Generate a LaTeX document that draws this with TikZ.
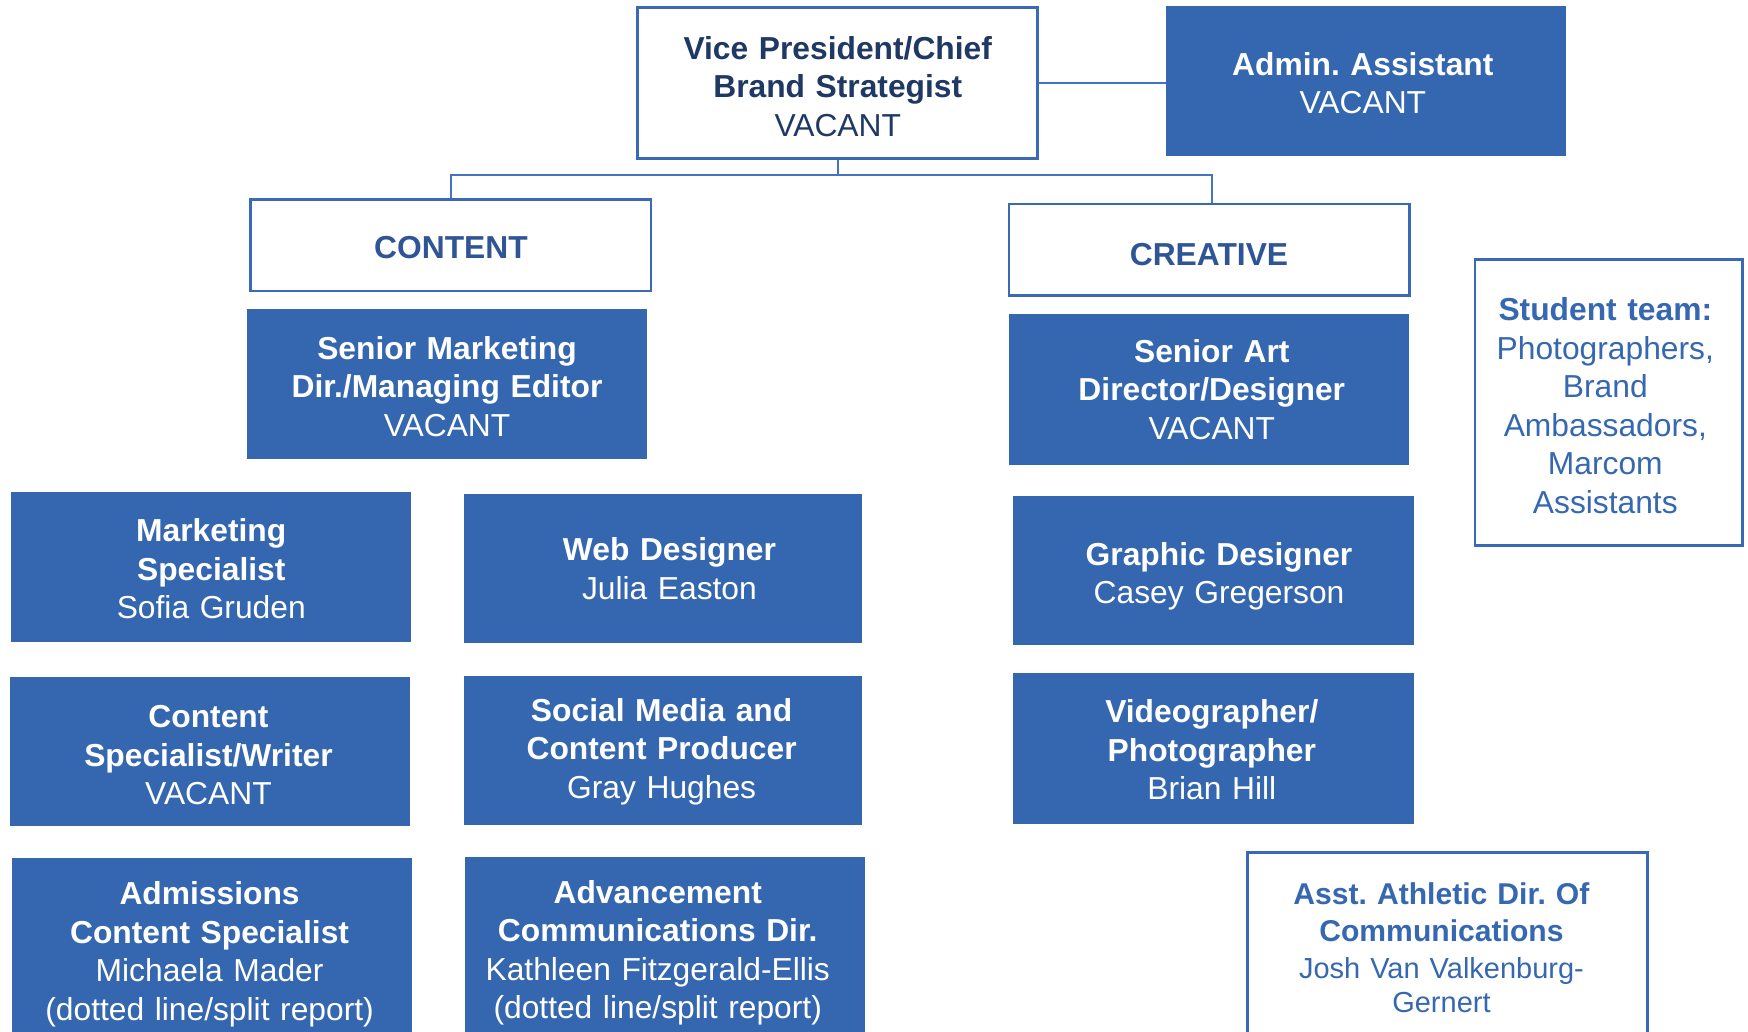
\documentclass[tikz,border=0pt]{standalone}
\usepackage{fontspec}
\setmainfont{Liberation Sans}
\frenchspacing
\definecolor{boxblue}{RGB}{53,103,176}
\definecolor{edgeblue}{RGB}{58,106,182}
\definecolor{linkblue}{RGB}{68,114,196}
\definecolor{navy}{RGB}{31,56,100}
\definecolor{headblue}{RGB}{47,85,151}
\definecolor{noteblue}{RGB}{54,104,178}
\tikzset{
  base/.style={rectangle, inner sep=0pt, align=center, text width=340pt,
    font=\fontsize{28.5pt}{34.5pt}\selectfont},
  filledbox/.style={base, fill=boxblue, text=white},
  outlinebox/.style={base, draw=edgeblue, line width=2.5pt, fill=white},
  link/.style={draw=linkblue, line width=1.3pt},
  % nudge the text block: #1 = sideways offset, #2 = downward offset (pt)
  adj/.style 2 args={execute at begin node={%
    \ifdim#1pt>0pt \advance\leftskip by 2\dimexpr#1pt\relax\relax
    \else \advance\rightskip by -2\dimexpr#1pt\relax\relax \fi
    \rule{0pt}{\dimexpr20.6pt+2\dimexpr#2pt\relax\relax}}},
}
\begin{document}
\begin{tikzpicture}[x=1pt,y=-1pt]
\useasboundingbox (0,0) rectangle (1568,925);
\clip (0,0) rectangle (1568,925);
\fill[white] (0,0) rectangle (1568,925);

% top level
\node[outlinebox, text=navy, minimum width=359pt, minimum height=135pt, adj={0}{3}] (vp) at (751.5,74.5)
  {\textbf{Vice President/Chief}\\\textbf{Brand Strategist}\\VACANT};
\node[filledbox, minimum width=359pt, minimum height=135pt, adj={-3}{2}] (admin) at (1225.5,72.5)
  {\textbf{Admin. Assistant}\\VACANT};

% department headers
\node[outlinebox, text=headblue, minimum width=359pt, minimum height=82pt, adj={0}{2}] (content) at (404.5,220)
  {\textbf{CONTENT}};
\node[outlinebox, text=headblue, minimum width=359pt, minimum height=82pt, adj={0}{4}] (creative) at (1084.5,224)
  {\textbf{CREATIVE}};

% connectors
\coordinate (bus) at (0,157);
\draw[link] (vp.east) -- (vp.east -| admin.west);
\draw[link] (vp.south) -- (vp.south |- bus);
\draw[link] (content.north) -- (content.north |- bus) -| ([xshift=2.5pt]creative.north);

% content team
\node[filledbox, minimum width=358pt, minimum height=135pt, adj={0}{2}] (smd) at (401,344.5)
  {\textbf{Senior Marketing}\\\textbf{Dir./Managing Editor}\\VACANT};
\node[filledbox, minimum width=359pt, minimum height=135pt, adj={0}{2}] (mkt) at (189.5,508.5)
  {\textbf{Marketing}\\\textbf{Specialist}\\Sofia Gruden};
\node[filledbox, minimum width=357pt, minimum height=134pt, adj={6}{0}] (web) at (594.5,510)
  {\textbf{Web Designer}\\Julia Easton};
\node[filledbox, minimum width=359pt, minimum height=134pt, adj={-1.5}{3}] (csw) at (188.5,674)
  {\textbf{Content}\\\textbf{Specialist/Writer}\\VACANT};
\node[filledbox, minimum width=357pt, minimum height=134pt, adj={-1}{1}] (smc) at (594.5,673)
  {\textbf{Social Media and}\\\textbf{Content Producer}\\Gray Hughes};
\node[filledbox, minimum width=359pt, minimum height=168pt, adj={-2.5}{2}] (adm) at (190.5,854)
  {\textbf{Admissions}\\\textbf{Content Specialist}\\Michaela Mader\\(dotted line/split report)};
\node[filledbox, minimum width=359pt, minimum height=165pt, adj={-6.5}{3}] (adv) at (596.5,851.5)
  {\textbf{Advancement}\\\textbf{Communications Dir.}\\Kathleen Fitzgerald-Ellis\\(dotted line/split report)};

% creative team
\node[filledbox, minimum width=359pt, minimum height=135pt, adj={2.5}{0}] (sad) at (1084.5,349.5)
  {\textbf{Senior Art}\\\textbf{Director/Designer}\\VACANT};
\node[filledbox, minimum width=359pt, minimum height=134pt, adj={5}{5}] (gd) at (1088.5,512)
  {\textbf{Graphic Designer}\\Casey Gregerson};
\node[filledbox, minimum width=359pt, minimum height=135pt, adj={-1.5}{1}] (vid) at (1088.5,671.5)
  {\textbf{Videographer/}\\\textbf{Photographer}\\Brian Hill};

% side notes
\node[outlinebox, text=noteblue, text width=225pt, minimum width=240pt, minimum height=256pt, adj={-3}{3}] (student) at (1443,361)
  {\textbf{Student team:}\\Photographers,\\Brand\\Ambassadors,\\Marcom\\Assistants};
\node[outlinebox, text=noteblue, minimum width=359pt, minimum height=170pt, adj={-5.5}{0},
  font=\fontsize{27pt}{33pt}\selectfont] (asst) at (1298.5,850)
  {\textbf{Asst. Athletic Dir. Of}\\\textbf{Communications}\\{\fontsize{26pt}{31pt}\selectfont Josh Van Valkenburg-}\\[-2pt]{\fontsize{26pt}{31pt}\selectfont Gernert}};
\end{tikzpicture}
\end{document}
